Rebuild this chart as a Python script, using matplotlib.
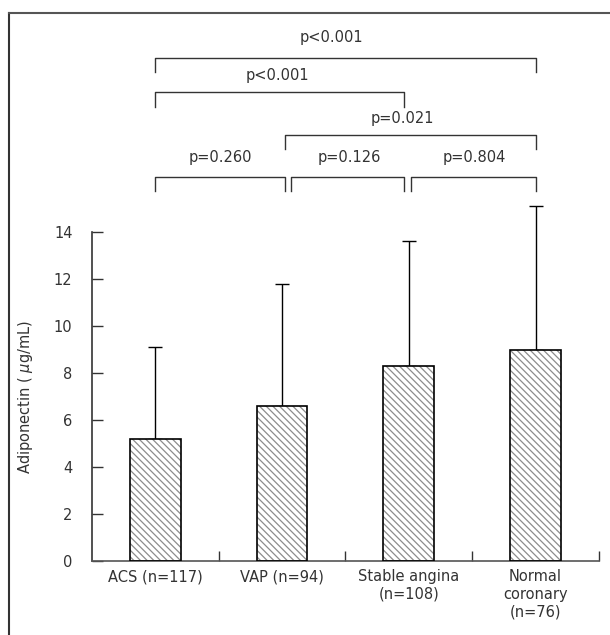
import matplotlib
matplotlib.use('Agg')
import matplotlib.pyplot as plt
from matplotlib.lines import Line2D
import numpy as np

groups = ['ACS (n=117)', 'VAP (n=94)', 'Stable angina\n(n=108)', 'Normal\ncoronary\n(n=76)']
means = [5.2, 6.6, 8.3, 9.0]
sds = [3.9, 5.2, 5.3, 6.1]

# comparisons: (left x, right x, bracket height, p text)
brk_left = [0, 0, 1.02, 0, 1.07, 2.02]
brk_right = [3, 1.96, 3, 1.02, 1.96, 3]
brk_y = [21.42, 19.94, 18.13, 16.33, 16.33, 16.33]
p_text = ['p<0.001', 'p<0.001', 'p=0.021', 'p=0.260', 'p=0.126', 'p=0.804']
p_x = [1.39, 0.96, 1.95, 0.51, 1.53, 2.52]
p_y = [22.26, 20.68, 18.85, 17.16, 17.16, 17.16]

plt.rcParams['font.family'] = 'DejaVu Sans'
plt.rcParams['font.size'] = 10.5
plt.rcParams['text.color'] = '#333333'
plt.rcParams['hatch.linewidth'] = 0.9

fig = plt.figure(figsize=(6.10, 6.35), dpi=100)
ax = fig.add_axes([0.1508, 0.1165, 0.8311, 0.8512])

x = np.arange(len(groups))
ax.bar(x, means, width=0.4, color='white', edgecolor='#8c8c8c', hatch='\\' * 5, linewidth=0, zorder=2)
ax.bar(x, means, width=0.4, fill=False, edgecolor='black', linewidth=1.2, zorder=3)
ax.errorbar(x, means, yerr=[np.zeros(len(sds)), sds], fmt='none', ecolor='black',
            elinewidth=1.0, capsize=5, capthick=1.0, zorder=1)

for i in range(len(p_text)):
    l, r, y = brk_left[i], brk_right[i], brk_y[i]
    ax.plot([l, l, r, r], [y - 0.6, y, y, y - 0.6], color='#333333', lw=1.0, clip_on=False)
    ax.text(p_x[i], p_y[i], p_text[i], ha='center', va='center', color='#333333')

ax.set_xlim(-0.5, 3.5)
ax.set_ylim(0, 23)
ax.spines['top'].set_visible(False)
ax.spines['right'].set_visible(False)
ax.spines['left'].set_bounds(0, 14)
ax.spines['left'].set_color('#333333')
ax.spines['bottom'].set_color('#555555')
ax.spines['left'].set_linewidth(1.2)
ax.spines['bottom'].set_linewidth(1.2)

ax.set_yticks(np.arange(0, 15, 2))
ax.tick_params(axis='y', direction='in', length=8, width=1.0, pad=14, colors='#333333', labelsize=10.5)
ax.set_xticks([0.5, 1.5, 2.5, 3.5])
ax.set_xticklabels([])
ax.tick_params(axis='x', which='major', direction='in', length=7, width=1.0, color='#333333')
ax.set_xticks(x, minor=True)
ax.set_xticklabels(groups, minor=True)
ax.tick_params(axis='x', which='minor', length=0, pad=6, labelsize=10.5, labelcolor='#333333')

ax.set_ylabel(r'Adiponectin ( $\mu$g/mL)', fontsize=10.5, color='#333333')
ax.yaxis.set_label_coords(-0.112, 0.304)

fig.add_artist(Line2D([0.0148, 0.0148], [0.0, 0.9795], color='#333333', lw=1.5))
fig.add_artist(Line2D([0.0148, 1.0], [0.9795, 0.9795], color='#555555', lw=1.5))

fig.savefig('out.png', dpi=100)
